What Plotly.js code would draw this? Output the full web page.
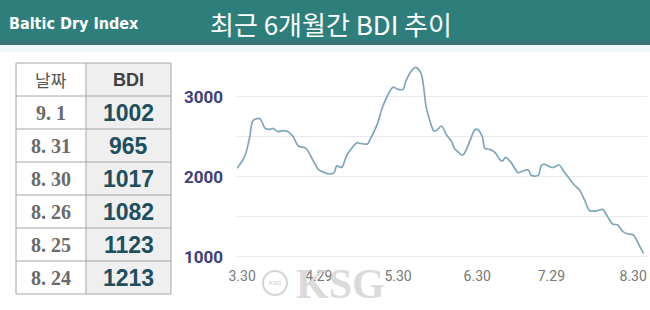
<!DOCTYPE html>
<html>
<head>
<meta charset="utf-8">
<script src="https://cdn.plot.ly/plotly-3.0.1.min.js"></script>
<style>html,body{margin:0;padding:0;background:#fff;}#chart{width:650px;height:310px;}</style>
</head>
<body>
<div id="chart"></div>
<script>
// ---- data ----
const dates = ['2022-03-28','2022-03-31','2022-04-02','2022-04-03','2022-04-04','2022-04-06','2022-04-08','2022-04-10','2022-04-11','2022-04-13','2022-04-15','2022-04-17','2022-04-19','2022-04-21','2022-04-24','2022-04-26','2022-04-29','2022-05-01','2022-05-03','2022-05-05','2022-05-06','2022-05-08','2022-05-10','2022-05-14','2022-05-15','2022-05-18','2022-05-19','2022-05-22','2022-05-24','2022-05-28','2022-05-30','2022-06-01','2022-06-02','2022-06-04','2022-06-06','2022-06-08','2022-06-09','2022-06-10','2022-06-12','2022-06-13','2022-06-14','2022-06-16','2022-06-18','2022-06-20','2022-06-21','2022-06-22','2022-06-24','2022-06-25','2022-06-27','2022-06-29','2022-06-30','2022-07-02','2022-07-03','2022-07-05','2022-07-07','2022-07-09','2022-07-10','2022-07-11','2022-07-13','2022-07-16','2022-07-18','2022-07-20','2022-07-21','2022-07-23','2022-07-24','2022-07-25','2022-07-26','2022-07-29','2022-07-30','2022-08-01','2022-08-03','2022-08-07','2022-08-09','2022-08-11','2022-08-13','2022-08-16','2022-08-18','2022-08-20','2022-08-22','2022-08-24','2022-08-26','2022-08-28','2022-08-30','2022-09-01','2022-09-02','2022-09-03'];
const bdi = [2105,2250,2500,2688,2717,2725,2605,2592,2605,2563,2575,2563,2500,2384,2355,2250,2084,2055,2034,2050,2134,2117,2271,2425,2417,2409,2459,2667,2875,3117,3092,3092,3188,3313,3367,3292,3125,2875,2646,2575,2575,2634,2521,2438,2355,2325,2271,2292,2438,2584,2592,2500,2355,2342,2300,2209,2200,2242,2188,2050,2075,2084,2021,2009,2021,2134,2159,2117,2117,2146,2063,1896,1834,1709,1575,1575,1592,1500,1409,1396,1313,1284,1275,1167,1105,1042];
const xTickVals = ['2022-03-30','2022-04-29','2022-05-30','2022-06-30','2022-07-29','2022-08-30'];
const xTickText = ['3.30','4.29','5.30','6.30','7.29','8.30'];
const yTickVals = [1000,1500,2000,2500,3000];
const yTickText = ['1000','','2000','','3000'];
const tableHeader = ['날짜','BDI'];
const tableDates = ['9. 1','8. 31','8. 30','8. 26','8. 25','8. 24'];
const tableValues = [1002,965,1017,1082,1123,1213];
const headerLeft = 'Baltic Dry Index';
const titleText = '최근 6개월간 BDI 추이';

// ---- helpers (pixel -> paper) ----
const W = 650, H = 310;
const px = v => v / W;
const py = v => 1 - v / H;

const lineTrace = {
  type: 'scatter', mode: 'lines',
  x: dates, y: bdi,
  line: {color: '#7ea7bc', width: 1.7, shape: 'spline', smoothing: 0.8},
  hoverinfo: 'skip', showlegend: false
};

// ---- table geometry ----
const colX = [16, 86, 171];
const rowTop = 63, rowH = 33;
const nRows = tableDates.length + 1;
const tableBottom = rowTop + rowH * nRows;
const lineCol = '#a6a6a6';

const shapes = [
  {type: 'rect', xref: 'paper', yref: 'paper', x0: 0, x1: 1, y0: py(52), y1: py(45),
   fillcolor: '#f1fafa', line: {width: 0}, layer: 'below'},
  {type: 'rect', xref: 'paper', yref: 'paper', x0: 0, x1: 1, y0: py(45), y1: 1,
   fillcolor: '#2e7f7c', line: {width: 0}, layer: 'below'},
  {type: 'rect', xref: 'paper', yref: 'paper', x0: 0, x1: 1, y0: py(45), y1: py(41),
   fillcolor: '#3c7473', line: {width: 0}, layer: 'below'},
  {type: 'rect', xref: 'paper', yref: 'paper', x0: px(colX[1]), x1: px(colX[2]), y0: py(tableBottom), y1: py(rowTop),
   fillcolor: '#efefef', line: {width: 0}, layer: 'below'}
];
for (let i = 0; i <= nRows; i++) {
  const yy = rowTop + rowH * i;
  shapes.push({type: 'line', xref: 'paper', yref: 'paper', x0: px(colX[0]), x1: px(colX[2]), y0: py(yy), y1: py(yy),
               line: {color: lineCol, width: 1}});
}
colX.forEach(cx => shapes.push({type: 'line', xref: 'paper', yref: 'paper', x0: px(cx), x1: px(cx),
                                y0: py(tableBottom), y1: py(rowTop), line: {color: lineCol, width: 1}}));
shapes.push({type: 'circle', xref: 'paper', yref: 'paper', x0: px(263), x1: px(287), y0: py(295), y1: py(271),
             fillcolor: 'rgba(255,255,255,0.6)', line: {color: 'rgba(205,205,205,0.85)', width: 2}, layer: 'above'});

const annotations = [
  {text: '<b>' + headerLeft + '</b>', xref: 'paper', yref: 'paper', x: px(7), y: py(23),
   xanchor: 'left', yanchor: 'middle', showarrow: false,
   font: {family: 'DejaVu Sans Condensed, DejaVu Sans', stretch: 'condensed', size: 16, color: '#ffffff'}},
  {text: titleText, xref: 'paper', yref: 'paper', x: px(331), y: py(23),
   xanchor: 'center', yanchor: 'middle', showarrow: false,
   font: {family: 'Noto Sans CJK KR', size: 26, color: '#ffffff'}},
  {text: '<b>KSG</b>', xref: 'paper', yref: 'paper', x: px(340), y: py(284),
   xanchor: 'center', yanchor: 'middle', showarrow: false,
   font: {family: 'Liberation Serif', size: 42, color: 'rgba(212,212,212,0.85)'}},
  {text: 'KSG', xref: 'paper', yref: 'paper', x: px(275), y: py(283),
   xanchor: 'center', yanchor: 'middle', showarrow: false,
   font: {family: 'Liberation Sans', size: 6, color: 'rgba(190,190,190,0.9)'}}
];
const colC = [(colX[0] + colX[1]) / 2, (colX[1] + colX[2]) / 2];
// header row
annotations.push({text: tableHeader[0], xref: 'paper', yref: 'paper', x: px(colC[0]), y: py(rowTop + rowH / 2),
  xanchor: 'center', yanchor: 'middle', showarrow: false,
  font: {family: 'Noto Sans CJK KR', size: 17, color: '#555555'}});
annotations.push({text: '<b>' + tableHeader[1] + '</b>', xref: 'paper', yref: 'paper', x: px(colC[1]), y: py(rowTop + rowH / 2),
  xanchor: 'center', yanchor: 'middle', showarrow: false,
  font: {family: 'Liberation Sans', size: 18, color: '#404040'}});
tableDates.forEach((d, i) => {
  const cy = rowTop + rowH * (i + 1) + rowH / 2;
  annotations.push({text: '<b>' + d + '</b>', xref: 'paper', yref: 'paper', x: px(colC[0]), y: py(cy),
    xanchor: 'center', yanchor: 'middle', showarrow: false,
    font: {family: 'Liberation Serif', size: 20, color: '#6a6a6a'}});
  annotations.push({text: '<b>' + tableValues[i] + '</b>', xref: 'paper', yref: 'paper', x: px(colC[1]), y: py(cy),
    xanchor: 'center', yanchor: 'middle', showarrow: false,
    font: {family: 'Liberation Sans', size: 23, color: '#1d4f5e'}});
});

const layout = {
  width: W, height: H,
  margin: {l: 0, r: 0, t: 0, b: 0},
  paper_bgcolor: '#ffffff', plot_bgcolor: '#ffffff',
  showlegend: false,
  xaxis: {
    type: 'date',
    domain: [px(237), px(647)],
    range: ['2022-03-28', '2022-09-04 10:00'],
    tickvals: xTickVals, ticktext: xTickText,
    showgrid: false, zeroline: false, showline: false, ticks: '',
    ticklabelstandoff: 5,
    tickfont: {family: 'Roboto', size: 14, color: '#777777'}
  },
  yaxis: {
    domain: [1 - 260.7 / H, 1 - 60.7 / H],
    range: [950, 3450],
    tickvals: yTickVals, ticktext: yTickText,
    showgrid: true, gridcolor: '#e9e9e9', gridwidth: 1,
    zeroline: false, showline: false, ticks: '',
    ticklabelstandoff: 13,
    tickfont: {family: 'Roboto', size: 17, color: '#3d4079', weight: 'bold'}
  },
  shapes: shapes,
  annotations: annotations
};

Plotly.newPlot('chart', [lineTrace], layout, {staticPlot: true, displayModeBar: false});
</script>
</body>
</html>
